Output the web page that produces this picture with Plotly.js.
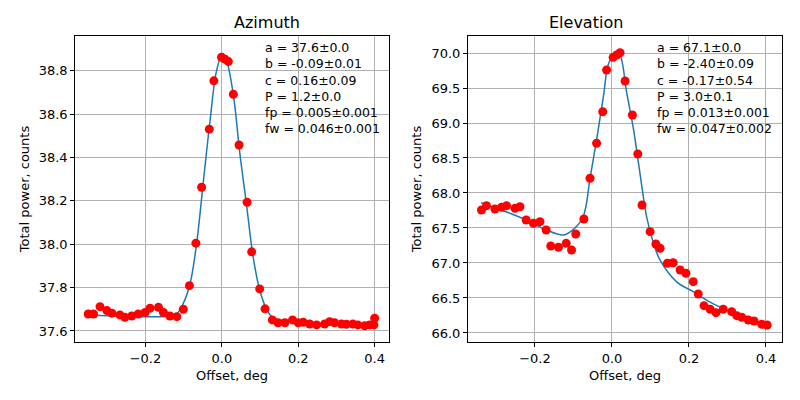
<!DOCTYPE html>
<html>
<head>
<meta charset="utf-8">
<script src="https://cdn.plot.ly/plotly-3.0.1.min.js"></script>
<style>body{margin:0}#plot{width:800px;height:400px}</style>
</head>
<body>
<div id="plot"></div>
<script>
// Azimuth scan: measured points
const azX = [-0.350,-0.336,-0.319,-0.301,-0.288,-0.267,-0.254,-0.236,-0.219,-0.201,-0.188,-0.166,-0.153,-0.136,-0.118,-0.101,-0.085,-0.068,-0.053,-0.033,-0.021,-0.001,0.008,0.017,0.030,0.045,0.066,0.078,0.099,0.113,0.132,0.147,0.165,0.185,0.200,0.213,0.230,0.248,0.269,0.282,0.295,0.313,0.326,0.343,0.356,0.374,0.387,0.398,0.400];
const azY = [37.678,37.678,37.712,37.694,37.682,37.674,37.663,37.669,37.678,37.685,37.705,37.709,37.685,37.669,37.666,37.700,37.809,38.005,38.263,38.531,38.754,38.863,38.854,38.843,38.692,38.458,38.194,37.965,37.794,37.702,37.651,37.638,37.638,37.651,37.638,37.640,37.632,37.628,37.632,37.643,37.638,37.632,37.631,37.632,37.628,37.624,37.628,37.628,37.659];
// Azimuth fit curve
const azFitX = [-0.350,-0.30,-0.25,-0.20,-0.15,-0.118,-0.101,-0.083,-0.066,-0.049,-0.031,-0.014,0.002,0.012,0.030,0.047,0.064,0.082,0.099,0.117,0.134,0.169,0.22,0.30,0.40];
const azFitY = [37.674,37.670,37.667,37.666,37.667,37.680,37.727,37.820,38.005,38.280,38.570,38.800,38.880,38.850,38.690,38.420,38.190,37.940,37.790,37.700,37.660,37.645,37.638,37.632,37.627];

// Elevation scan: measured points
const elX = [-0.339,-0.326,-0.304,-0.287,-0.274,-0.252,-0.239,-0.223,-0.204,-0.187,-0.171,-0.159,-0.139,-0.119,-0.105,-0.094,-0.073,-0.057,-0.040,-0.024,-0.014,0.003,0.012,0.021,0.034,0.053,0.067,0.078,0.099,0.114,0.125,0.144,0.159,0.177,0.192,0.211,0.224,0.239,0.255,0.270,0.289,0.311,0.324,0.337,0.354,0.369,0.389,0.403];
const elY = [67.757,67.819,67.771,67.795,67.819,67.781,67.804,67.614,67.567,67.590,67.471,67.243,67.224,67.281,67.186,67.414,67.629,68.210,68.710,69.161,69.757,69.938,69.971,70.004,69.600,69.114,68.557,67.829,67.447,67.271,67.210,66.996,67.004,66.900,66.853,66.733,66.557,66.390,66.339,66.290,66.339,66.304,66.247,66.224,66.186,66.171,66.124,66.114];
// Elevation fit curve
const elFitX = [-0.340,-0.30,-0.26,-0.22,-0.17,-0.126,-0.10,-0.075,-0.057,-0.040,-0.022,-0.008,0.012,0.021,0.038,0.055,0.073,0.090,0.108,0.125,0.168,0.211,0.255,0.30,0.35,0.40];
const elFitY = [67.860,67.780,67.700,67.610,67.470,67.400,67.480,67.660,68.210,68.760,69.390,69.860,70.000,69.970,69.440,68.940,68.270,67.660,67.280,67.040,66.730,66.590,66.440,66.320,66.210,66.110];

const azTicks = [37.6,37.8,38.0,38.2,38.4,38.6,38.8];
const elTicks = [66.0,66.5,67.0,67.5,68.0,68.5,69.0,69.5,70.0];
const xTicks = [-0.2,0.0,0.2,0.4];

const azText = ['a = 37.6±0.0','b = -0.09±0.01','c = 0.16±0.09','P = 1.2±0.0','fp = 0.005±0.001','fw = 0.046±0.001'];
const elText = ['a = 67.1±0.0','b = -2.40±0.09','c = -0.17±0.54','P = 3.0±0.1','fp = 0.013±0.001','fw = 0.047±0.002'];

const lineStyle = {color:'#1f77b4', width:1.5};
const markStyle = {color:'red', size:9};

const data = [
  {x:azFitX, y:azFitY, mode:'lines', line:Object.assign({shape:'spline'}, lineStyle), xaxis:'x', yaxis:'y'},
  {x:azX, y:azY, mode:'markers', marker:markStyle, xaxis:'x', yaxis:'y'},
  {x:elFitX, y:elFitY, mode:'lines', line:Object.assign({shape:'spline'}, lineStyle), xaxis:'x2', yaxis:'y2'},
  {x:elX, y:elY, mode:'markers', marker:markStyle, xaxis:'x2', yaxis:'y2'}
];

const ax = {
  showline:true, mirror:true, linecolor:'black', linewidth:1,
  ticks:'outside', ticklen:4, tickcolor:'black',
  gridcolor:'#b0b0b0', zeroline:false,
  tickfont:{size:13, color:'black'}
};
const font = {family:'DejaVu Sans', size:13, color:'black'};

const layout = {
  width:800, height:400, showlegend:false,
  margin:{l:0, r:0, t:0, b:0},
  paper_bgcolor:'white', plot_bgcolor:'white', font:font,
  xaxis: Object.assign({}, ax, {domain:[0.094,0.486], range:[-0.384,0.437], tickvals:xTicks, tickformat:'.1f', anchor:'y',
    title:{text:'Offset, deg', font:{size:13}, standoff:6}}),
  yaxis: Object.assign({}, ax, {domain:[0.145,0.91], range:[37.549,38.961], tickvals:azTicks, tickformat:'.1f', anchor:'x',
    title:{text:'Total power, counts', font:{size:13}, standoff:6}}),
  xaxis2: Object.assign({}, ax, {domain:[0.585,0.9775], range:[-0.374,0.4416], tickvals:xTicks, tickformat:'.1f', anchor:'y2',
    title:{text:'Offset, deg', font:{size:13}, standoff:6}}),
  yaxis2: Object.assign({}, ax, {domain:[0.145,0.91], range:[65.871,70.243], tickvals:elTicks, tickformat:'.1f', anchor:'x2',
    title:{text:'Total power, counts', font:{size:13}, standoff:6}}),
  annotations: [
    {text:'Azimuth', xref:'paper', yref:'paper', x:0.29, y:0.943, showarrow:false, font:{size:16}, yanchor:'middle'},
    {text:'Elevation', xref:'paper', yref:'paper', x:0.781, y:0.943, showarrow:false, font:{size:16}, yanchor:'middle'},
    {text:azText.join('<br>'), xref:'paper', yref:'paper', x:0.329, y:0.905, xanchor:'left', yanchor:'top', align:'left', showarrow:false, font:{size:12.5}},
    {text:elText.join('<br>'), xref:'paper', yref:'paper', x:0.819, y:0.905, xanchor:'left', yanchor:'top', align:'left', showarrow:false, font:{size:12.5}}
  ]
};

Plotly.newPlot('plot', data, layout, {displayModeBar:false, staticPlot:true});
</script>
</body>
</html>
